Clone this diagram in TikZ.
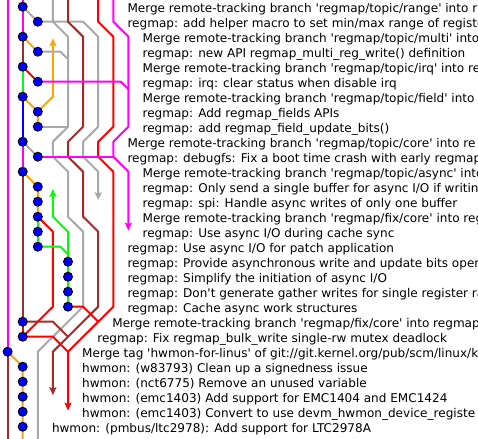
\documentclass[tikz,border=0pt]{standalone}
\usepackage{fontspec}
\newfontfamily\gitfont{DejaVu Sans}[Ligatures=TeXOff]
\usetikzlibrary{arrows.meta}
\definecolor{gmag}{HTML}{FF00FF}
\definecolor{ggray}{HTML}{A9A9A9}
\definecolor{gbrown}{HTML}{A52A2A}
\definecolor{gred}{HTML}{FF0000}
\definecolor{gorange}{HTML}{FFA500}
\definecolor{ggreen}{HTML}{00FF00}
\definecolor{gblue}{HTML}{0000FF}
\tikzset{
  lane/.style={line width=2pt, line join=round},
  tipend/.style={-{Stealth[length=8pt,width=7pt,inset=1.5pt]}},
  dot/.style={circle, fill=gblue, draw=black, line width=0.9pt, minimum size=9pt, inner sep=0pt},
  msg/.style={anchor=base west, inner sep=0pt, xshift=-1.1pt, yshift=-5.8pt,
              font={\gitfont\fontsize{12.05pt}{14pt}\selectfont}, text=black},
}
\begin{document}
\begin{tikzpicture}
\path[use as bounding box] (0pt,0pt) rectangle (478pt,-438pt);
\fill[white] (0pt,0pt) rectangle (478pt,-438pt);
\clip (0pt,0pt) rectangle (478pt,-438pt);
\begin{scope}[x=15.1pt,y=-15pt,shift={(7.6pt,-6.7pt)}]
% commit positions
\coordinate (p0) at (1,0);  \coordinate (p1) at (2,1);  \coordinate (p2) at (1,2);
\coordinate (p3) at (2,3);  \coordinate (p4) at (1,4);  \coordinate (p5) at (2,5);
\coordinate (p6) at (1,6);  \coordinate (p7) at (2,7);  \coordinate (p8) at (2,8);
\coordinate (p9) at (1,9);  \coordinate (p10) at (2,10); \coordinate (p11) at (1,11);
\coordinate (p12) at (2,12); \coordinate (p13) at (2,13); \coordinate (p14) at (2,14);
\coordinate (p15) at (2,15); \coordinate (p16) at (2,16); \coordinate (p17) at (4,17);
\coordinate (p18) at (4,18); \coordinate (p19) at (4,19); \coordinate (p20) at (4,20);
\coordinate (p21) at (1,21); \coordinate (p22) at (1,22); \coordinate (p23) at (0,23);
\coordinate (p24) at (1,24); \coordinate (p25) at (1,25); \coordinate (p26) at (1,26);
\coordinate (p27) at (1,27); \coordinate (p28) at (1,28);
% free ends
\coordinate (topA) at (0,-1); \coordinate (topB) at (1,-1); \coordinate (topC) at (3,-1);
\coordinate (topD) at (4,-1); \coordinate (topE) at (6,-1); \coordinate (topF) at (7,-1);
\coordinate (botA) at (0,30); \coordinate (botB) at (1,30); \coordinate (botC) at (2,30);
\coordinate (aOr) at (3,2.1);  \coordinate (aGr) at (3,12.15);
\coordinate (aGy) at (6,12.9); \coordinate (aMg) at (8,14.93);
\coordinate (aBr) at (3,25.9); \coordinate (aRd) at (4,26.93);
% join points
\coordinate (j3) at (4,3.5);  \coordinate (j5) at (8,5.5);  \coordinate (j8) at (4,8);
\coordinate (j10) at (7,10);  \coordinate (j16) at (4,16.5); \coordinate (j20) at (6,21);
\coordinate (j21) at (4,22);  \coordinate (j22) at (4,23);

% long lanes
\draw[lane,gmag] (topA) -- (p23);
\draw[lane,gmag] (topB) -- (p0) -- (p2);
\draw[lane,gmag,tipend] (topF) -- (7,1) -- (8,2) -- (8,8) -- (7,9) -- (7,10) -- (8,11) -- (aMg);
\draw[lane,gmag] (p9) -- (p11);
\draw[lane,ggray,tipend] (p1) -- (5,1) -- (6,2) -- (6,8) -- (5,9) -- (5,10) -- (6,11) -- (aGy);
\draw[lane,ggray] (topC) -- (3,1) -- (4,2) -- (4,8) -- (3,9) -- (3,10) -- (4,11) -- (4,14) -- (5,15) -- (5,20) -- (2,23) -- (botC);
\draw[lane,gbrown,tipend] (topD) -- (4,1) -- (5,2) -- (5,8) -- (4,9) -- (4,10) -- (5,11) -- (5,14) -- (6,15) -- (6,20) -- (3,23) -- (aBr);
\draw[lane,gbrown] (p2) -- (p4);
\draw[lane,gbrown] (p11) -- (p21);
\draw[lane,gbrown] (p23) -- (botA);
\draw[lane,gred,tipend] (topE) -- (6,1) -- (7,2) -- (7,8) -- (6,9) -- (6,10) -- (7,11) -- (7,20) -- (4,23) -- (aRd);
\draw[lane,gred] (p14) -- (3,15) -- (3,20) -- (p22);
\draw[lane,gred] (p21) -- (p22);
\draw[lane,gorange,tipend] (p7) -- (3,6) -- (aOr);
\draw[lane,gorange] (p6) -- (p7) -- (p8);
\draw[lane,gorange] (p2) -- (p3);
\draw[lane,gorange] (p11) -- (p12) -- (p13) -- (p14);
\draw[lane,gorange] (p23) -- (p24) -- (p25) -- (p26) -- (p27) -- (p28) -- (botB);
\draw[lane,ggreen] (p4) -- (p6);
\draw[lane,ggreen] (p14) -- (p15) -- (p16);
\draw[lane,ggreen,tipend] (p20) -- (p19) -- (p18) -- (p17) -- (4,15) -- (3,14) -- (aGr);
\draw[lane,gblue] (p6) -- (p9);
% parent links
\draw[lane,ggray] (p0) -- (p1);
\draw[lane,ggray] (p3) -- (3.5,3) -- (j3);
\draw[lane,ggray] (p8) -- (j8);
\draw[lane,ggray] (p9) -- (p10);
\draw[lane,gmag] (p5) -- (7.5,5) -- (j5);
\draw[lane,gmag] (p10) -- (j10);
\draw[lane,gred] (p4) -- (p5);
\draw[lane,ggreen] (p16) -- (3.5,16) -- (j16);
\draw[lane,gred] (p20) -- (5,20) -- (j20);
\draw[lane,gbrown] (p21) -- (3,21) -- (j21);
\draw[lane,gred] (p22) -- (3,22) -- (j22);
% commits
\foreach \i in {0,...,28} { \node[dot] (d\i) at (p\i) {}; }
% messages (as far as the window shows them)
\node[msg] (t0) at (8,0) {Merge remote-tracking branch 'regmap/topic/range' into r};
\node[msg] (t1) at (8,1) {regmap: add helper macro to set min/max range of registe};
\node[msg] (t2) at (9,2) {Merge remote-tracking branch 'regmap/topic/multi' into};
\node[msg] (t3) at (9,3) {regmap: new API regmap\_multi\_reg\_write() definition};
\node[msg] (t4) at (9,4) {Merge remote-tracking branch 'regmap/topic/irq' into re};
\node[msg] (t5) at (9,5) {regmap: irq: clear status when disable irq};
\node[msg] (t6) at (9,6) {Merge remote-tracking branch 'regmap/topic/field' into};
\node[msg] (t7) at (9,7) {regmap: Add regmap\_fields APIs};
\node[msg] (t8) at (9,8) {regmap: add regmap\_field\_update\_bits()};
\node[msg] (t9) at (8,9) {Merge remote-tracking branch 'regmap/topic/core' into re};
\node[msg] (t10) at (8,10) {regmap: debugfs: Fix a boot time crash with early regmap};
\node[msg] (t11) at (9,11) {Merge remote-tracking branch 'regmap/topic/async' into};
\node[msg] (t12) at (9,12) {regmap: Only send a single buffer for async I/O if writing};
\node[msg] (t13) at (9,13) {regmap: spi: Handle async writes of only one buffer};
\node[msg] (t14) at (9,14) {Merge remote-tracking branch 'regmap/fix/core' into reg};
\node[msg] (t15) at (9,15) {regmap: Use async I/O during cache sync};
\node[msg] (t16) at (8,16) {regmap: Use async I/O for patch application};
\node[msg] (t17) at (8,17) {regmap: Provide asynchronous write and update bits oper};
\node[msg] (t18) at (8,18) {regmap: Simplify the initiation of async I/O};
\node[msg] (t19) at (8,19) {regmap: Don't generate gather writes for single register ra};
\node[msg] (t20) at (8,20) {regmap: Cache async work structures};
\node[msg] (t21) at (7,21) {Merge remote-tracking branch 'regmap/fix/core' into regmap};
\node[msg] (t22) at (6,22) {regmap: Fix regmap\_bulk\_write single-rw mutex deadlock};
\node[msg] (t23) at (5,23) {Merge tag 'hwmon-for-linus' of git://git.kernel.org/pub/scm/linux/k};
\node[msg] (t24) at (5,24) {hwmon: (w83793) Clean up a signedness issue};
\node[msg] (t25) at (5,25) {hwmon: (nct6775) Remove an unused variable};
\node[msg] (t26) at (5,26) {hwmon: (emc1403) Add support for EMC1404 and EMC1424};
\node[msg] (t27) at (5,27) {hwmon: (emc1403) Convert to use devm\_hwmon\_device\_registe};
\node[msg] (t28) at (3,28) {hwmon: (pmbus/ltc2978): Add support for LTC2978A};
\end{scope}
\end{tikzpicture}
\end{document}
